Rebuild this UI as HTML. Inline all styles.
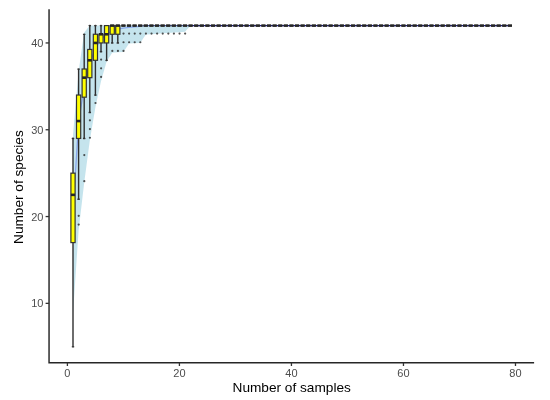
<!DOCTYPE html>
<html><head><meta charset="utf-8"><title>Species accumulation</title>
<style>
html,body{margin:0;padding:0;background:#fff;}
svg{display:block;}
.t{font-family:"Liberation Sans",Arial,sans-serif;font-size:11px;fill:#4d4d4d;}
.a{font-family:"Liberation Sans",Arial,sans-serif;font-size:13.65px;fill:#000;}
</style></head><body>
<svg width="550" height="400" viewBox="0 0 550 400">
<rect width="550" height="400" fill="#fff"/>
<polyline points="73.00,213.08 78.60,121.94 84.20,87.22 89.80,63.78 95.41,48.16 101.01,39.48 106.61,34.27 112.21,30.80 117.81,29.06 123.41,28.19 129.01,27.33 134.61,26.89 140.21,26.46" fill="none" stroke="#0000ff" stroke-opacity="0.8" stroke-width="1.3"/>
<polyline points="140.21,26.46 145.81,25.59 151.42,25.59 157.02,25.59 162.62,25.59 168.22,25.59 173.82,25.59 179.42,25.59 185.02,25.59 190.62,25.59 196.22,25.59 201.82,25.59 207.43,25.59 213.03,25.59 218.63,25.59 224.23,25.59 229.83,25.59 235.43,25.59 241.03,25.59 246.63,25.59 252.23,25.59 257.83,25.59 263.44,25.59 269.04,25.59 274.64,25.59 280.24,25.59 285.84,25.59 291.44,25.59 297.04,25.59 302.64,25.59 308.24,25.59 313.84,25.59 319.44,25.59 325.05,25.59 330.65,25.59 336.25,25.59 341.85,25.59 347.45,25.59 353.05,25.59 358.65,25.59 364.25,25.59 369.85,25.59 375.46,25.59 381.06,25.59 386.66,25.59 392.26,25.59 397.86,25.59 403.46,25.59 409.06,25.59 414.66,25.59 420.26,25.59 425.86,25.59 431.47,25.59 437.07,25.59 442.67,25.59 448.27,25.59 453.87,25.59 459.47,25.59 465.07,25.59 470.67,25.59 476.27,25.59 481.87,25.59 487.48,25.59 493.08,25.59 498.68,25.59 504.28,25.59 509.88,25.59" fill="none" stroke="#1c1c8a" stroke-width="1.3"/>
<polygon points="73.00,134.96 78.60,71.59 84.20,32.53 89.80,25.59 95.41,25.59 101.01,25.59 106.61,25.59 112.21,25.59 117.81,25.59 123.41,25.59 129.01,25.59 134.61,25.59 140.21,25.59 145.81,25.59 151.42,25.59 157.02,25.59 162.62,25.59 168.22,25.59 173.82,25.59 179.42,25.59 185.02,25.59 190.62,25.59 196.22,25.59 201.82,25.59 207.43,25.59 213.03,25.59 218.63,25.59 224.23,25.59 229.83,25.59 235.43,25.59 241.03,25.59 246.63,25.59 252.23,25.59 257.83,25.59 263.44,25.59 269.04,25.59 274.64,25.59 280.24,25.59 285.84,25.59 291.44,25.59 297.04,25.59 302.64,25.59 308.24,25.59 313.84,25.59 319.44,25.59 325.05,25.59 330.65,25.59 336.25,25.59 341.85,25.59 347.45,25.59 353.05,25.59 358.65,25.59 364.25,25.59 369.85,25.59 375.46,25.59 381.06,25.59 386.66,25.59 392.26,25.59 397.86,25.59 403.46,25.59 409.06,25.59 414.66,25.59 420.26,25.59 425.86,25.59 431.47,25.59 437.07,25.59 442.67,25.59 448.27,25.59 453.87,25.59 459.47,25.59 465.07,25.59 470.67,25.59 476.27,25.59 481.87,25.59 487.48,25.59 493.08,25.59 498.68,25.59 504.28,25.59 509.88,25.59 515.48,25.59 515.48,25.59 509.88,25.59 504.28,25.59 498.68,25.59 493.08,25.59 487.48,25.59 481.87,25.59 476.27,25.59 470.67,25.59 465.07,25.59 459.47,25.59 453.87,25.59 448.27,25.59 442.67,25.59 437.07,25.59 431.47,25.59 425.86,25.59 420.26,25.59 414.66,25.59 409.06,25.59 403.46,25.59 397.86,25.59 392.26,25.59 386.66,25.59 381.06,25.59 375.46,25.59 369.85,25.59 364.25,25.59 358.65,25.59 353.05,25.59 347.45,25.59 341.85,25.59 336.25,25.59 330.65,25.59 325.05,25.59 319.44,25.59 313.84,25.59 308.24,25.59 302.64,25.59 297.04,25.59 291.44,25.59 285.84,25.59 280.24,25.59 274.64,25.59 269.04,25.59 263.44,25.59 257.83,25.59 252.23,25.59 246.63,25.59 241.03,25.59 235.43,25.59 229.83,25.59 224.23,25.59 218.63,25.59 213.03,25.59 207.43,25.59 201.82,25.59 196.22,25.59 190.62,25.59 185.02,31.80 179.42,32.19 173.82,32.58 168.22,32.97 162.62,33.36 157.02,33.75 151.42,34.14 145.81,34.53 140.21,42.95 134.61,43.30 129.01,43.56 123.41,52.06 117.81,52.32 112.21,52.67 106.61,61.61 101.01,81.14 95.41,107.18 89.80,140.60 84.20,182.70 78.60,230.44 73.00,313.77" fill="#add8e6" fill-opacity="0.7"/>
<line x1="73.00" y1="138.43" x2="73.00" y2="173.15" stroke="#2e2e2e" stroke-width="1.4"/>
<ellipse cx="73.00" cy="138.43" rx="1.35" ry="0.85" fill="#333"/>
<line x1="73.00" y1="346.75" x2="73.00" y2="242.59" stroke="#2e2e2e" stroke-width="1.4"/>
<ellipse cx="73.00" cy="346.75" rx="1.35" ry="0.85" fill="#333"/>
<rect x="70.90" y="173.15" width="4.20" height="69.44" fill="#ffff00" stroke="#333" stroke-width="1.2"/>
<line x1="70.90" y1="194.85" x2="75.10" y2="194.85" stroke="#262626" stroke-width="2.6"/>
<circle cx="78.70" cy="215.85" r="1.1" fill="#333" fill-opacity="0.85"/>
<circle cx="78.70" cy="224.53" r="1.1" fill="#333" fill-opacity="0.85"/>
<line x1="78.60" y1="68.99" x2="78.60" y2="95.03" stroke="#2e2e2e" stroke-width="1.4"/>
<ellipse cx="78.60" cy="68.99" rx="1.35" ry="0.85" fill="#333"/>
<line x1="78.60" y1="199.19" x2="78.60" y2="138.43" stroke="#2e2e2e" stroke-width="1.4"/>
<ellipse cx="78.60" cy="199.19" rx="1.35" ry="0.85" fill="#333"/>
<rect x="76.50" y="95.03" width="4.20" height="43.40" fill="#ffff00" stroke="#333" stroke-width="1.2"/>
<line x1="76.50" y1="121.07" x2="80.70" y2="121.07" stroke="#262626" stroke-width="2.6"/>
<circle cx="84.30" cy="155.09" r="1.1" fill="#333" fill-opacity="0.85"/>
<circle cx="84.30" cy="181.13" r="1.1" fill="#333" fill-opacity="0.85"/>
<line x1="84.20" y1="34.27" x2="84.20" y2="68.99" stroke="#2e2e2e" stroke-width="1.4"/>
<ellipse cx="84.20" cy="34.27" rx="1.35" ry="0.85" fill="#333"/>
<line x1="84.20" y1="138.43" x2="84.20" y2="97.20" stroke="#2e2e2e" stroke-width="1.4"/>
<ellipse cx="84.20" cy="138.43" rx="1.35" ry="0.85" fill="#333"/>
<rect x="82.10" y="68.99" width="4.20" height="28.21" fill="#ffff00" stroke="#333" stroke-width="1.2"/>
<line x1="82.10" y1="77.67" x2="86.30" y2="77.67" stroke="#262626" stroke-width="2.6"/>
<circle cx="89.90" cy="120.37" r="1.1" fill="#333" fill-opacity="0.85"/>
<circle cx="89.90" cy="129.05" r="1.1" fill="#333" fill-opacity="0.85"/>
<circle cx="89.90" cy="137.73" r="1.1" fill="#333" fill-opacity="0.85"/>
<line x1="89.80" y1="25.59" x2="89.80" y2="49.46" stroke="#2e2e2e" stroke-width="1.4"/>
<ellipse cx="89.80" cy="25.59" rx="1.35" ry="0.85" fill="#333"/>
<line x1="89.80" y1="112.39" x2="89.80" y2="77.67" stroke="#2e2e2e" stroke-width="1.4"/>
<ellipse cx="89.80" cy="112.39" rx="1.35" ry="0.85" fill="#333"/>
<rect x="87.70" y="49.46" width="4.20" height="28.21" fill="#ffff00" stroke="#333" stroke-width="1.2"/>
<line x1="87.70" y1="60.31" x2="91.90" y2="60.31" stroke="#262626" stroke-width="2.6"/>
<circle cx="95.50" cy="103.01" r="1.1" fill="#333" fill-opacity="0.85"/>
<line x1="95.41" y1="25.59" x2="95.41" y2="34.27" stroke="#2e2e2e" stroke-width="1.4"/>
<ellipse cx="95.41" cy="25.59" rx="1.35" ry="0.85" fill="#333"/>
<line x1="95.41" y1="95.03" x2="95.41" y2="60.31" stroke="#2e2e2e" stroke-width="1.4"/>
<ellipse cx="95.41" cy="95.03" rx="1.35" ry="0.85" fill="#333"/>
<rect x="93.31" y="34.27" width="4.20" height="26.04" fill="#ffff00" stroke="#333" stroke-width="1.2"/>
<line x1="93.31" y1="42.95" x2="97.50" y2="42.95" stroke="#262626" stroke-width="2.6"/>
<circle cx="101.11" cy="59.61" r="1.1" fill="#333" fill-opacity="0.85"/>
<circle cx="101.11" cy="68.29" r="1.1" fill="#333" fill-opacity="0.85"/>
<circle cx="101.11" cy="76.97" r="1.1" fill="#333" fill-opacity="0.85"/>
<line x1="101.01" y1="25.59" x2="101.01" y2="34.27" stroke="#2e2e2e" stroke-width="1.4"/>
<ellipse cx="101.01" cy="25.59" rx="1.35" ry="0.85" fill="#333"/>
<line x1="101.01" y1="51.63" x2="101.01" y2="42.95" stroke="#2e2e2e" stroke-width="1.4"/>
<ellipse cx="101.01" cy="51.63" rx="1.35" ry="0.85" fill="#333"/>
<rect x="98.91" y="34.27" width="4.20" height="8.68" fill="#ffff00" stroke="#333" stroke-width="1.2"/>
<line x1="98.91" y1="34.27" x2="103.11" y2="34.27" stroke="#262626" stroke-width="2.6"/>
<line x1="106.61" y1="60.31" x2="106.61" y2="42.95" stroke="#2e2e2e" stroke-width="1.4"/>
<ellipse cx="106.61" cy="60.31" rx="1.35" ry="0.85" fill="#333"/>
<rect x="104.51" y="25.59" width="4.20" height="17.36" fill="#ffff00" stroke="#333" stroke-width="1.2"/>
<line x1="104.51" y1="34.27" x2="108.71" y2="34.27" stroke="#262626" stroke-width="2.6"/>
<circle cx="112.31" cy="50.93" r="1.1" fill="#333" fill-opacity="0.85"/>
<line x1="112.21" y1="42.95" x2="112.21" y2="34.27" stroke="#2e2e2e" stroke-width="1.4"/>
<ellipse cx="112.21" cy="42.95" rx="1.35" ry="0.85" fill="#333"/>
<rect x="110.11" y="25.59" width="4.20" height="8.68" fill="#ffff00" stroke="#333" stroke-width="1.2"/>
<line x1="110.11" y1="25.59" x2="114.31" y2="25.59" stroke="#262626" stroke-width="2.6"/>
<circle cx="117.91" cy="50.93" r="1.1" fill="#333" fill-opacity="0.85"/>
<line x1="117.81" y1="42.95" x2="117.81" y2="34.27" stroke="#2e2e2e" stroke-width="1.4"/>
<ellipse cx="117.81" cy="42.95" rx="1.35" ry="0.85" fill="#333"/>
<rect x="115.71" y="25.59" width="4.20" height="8.68" fill="#ffff00" stroke="#333" stroke-width="1.2"/>
<line x1="115.71" y1="25.59" x2="119.91" y2="25.59" stroke="#262626" stroke-width="2.6"/>
<circle cx="123.51" cy="33.57" r="1.1" fill="#333" fill-opacity="0.85"/>
<circle cx="123.51" cy="42.25" r="1.1" fill="#333" fill-opacity="0.85"/>
<circle cx="123.51" cy="50.93" r="1.1" fill="#333" fill-opacity="0.85"/>
<line x1="121.31" y1="25.59" x2="125.51" y2="25.59" stroke="#333" stroke-width="1.2"/>
<line x1="121.31" y1="25.59" x2="125.51" y2="25.59" stroke="#262626" stroke-width="2.6"/>
<circle cx="129.11" cy="33.57" r="1.1" fill="#333" fill-opacity="0.85"/>
<circle cx="129.11" cy="42.25" r="1.1" fill="#333" fill-opacity="0.85"/>
<line x1="126.91" y1="25.59" x2="131.11" y2="25.59" stroke="#333" stroke-width="1.2"/>
<line x1="126.91" y1="25.59" x2="131.11" y2="25.59" stroke="#262626" stroke-width="2.6"/>
<circle cx="134.71" cy="33.57" r="1.1" fill="#333" fill-opacity="0.85"/>
<circle cx="134.71" cy="42.25" r="1.1" fill="#333" fill-opacity="0.85"/>
<line x1="132.51" y1="25.59" x2="136.71" y2="25.59" stroke="#333" stroke-width="1.2"/>
<line x1="132.51" y1="25.59" x2="136.71" y2="25.59" stroke="#262626" stroke-width="2.6"/>
<circle cx="140.31" cy="33.57" r="1.1" fill="#333" fill-opacity="0.85"/>
<circle cx="140.31" cy="42.25" r="1.1" fill="#333" fill-opacity="0.85"/>
<line x1="138.11" y1="25.59" x2="142.31" y2="25.59" stroke="#333" stroke-width="1.2"/>
<line x1="138.11" y1="25.59" x2="142.31" y2="25.59" stroke="#262626" stroke-width="2.6"/>
<circle cx="145.91" cy="33.57" r="1.1" fill="#333" fill-opacity="0.85"/>
<line x1="143.71" y1="25.59" x2="147.91" y2="25.59" stroke="#333" stroke-width="1.2"/>
<line x1="143.71" y1="25.59" x2="147.91" y2="25.59" stroke="#262626" stroke-width="2.6"/>
<circle cx="151.52" cy="33.57" r="1.1" fill="#333" fill-opacity="0.85"/>
<line x1="149.32" y1="25.59" x2="153.52" y2="25.59" stroke="#333" stroke-width="1.2"/>
<line x1="149.32" y1="25.59" x2="153.52" y2="25.59" stroke="#262626" stroke-width="2.6"/>
<circle cx="157.12" cy="33.57" r="1.1" fill="#333" fill-opacity="0.85"/>
<line x1="154.92" y1="25.59" x2="159.12" y2="25.59" stroke="#333" stroke-width="1.2"/>
<line x1="154.92" y1="25.59" x2="159.12" y2="25.59" stroke="#262626" stroke-width="2.6"/>
<circle cx="162.72" cy="33.57" r="1.1" fill="#333" fill-opacity="0.85"/>
<line x1="160.52" y1="25.59" x2="164.72" y2="25.59" stroke="#333" stroke-width="1.2"/>
<line x1="160.52" y1="25.59" x2="164.72" y2="25.59" stroke="#262626" stroke-width="2.6"/>
<circle cx="168.32" cy="33.57" r="1.1" fill="#333" fill-opacity="0.85"/>
<line x1="166.12" y1="25.59" x2="170.32" y2="25.59" stroke="#333" stroke-width="1.2"/>
<line x1="166.12" y1="25.59" x2="170.32" y2="25.59" stroke="#262626" stroke-width="2.6"/>
<circle cx="173.92" cy="33.57" r="1.1" fill="#333" fill-opacity="0.85"/>
<line x1="171.72" y1="25.59" x2="175.92" y2="25.59" stroke="#333" stroke-width="1.2"/>
<line x1="171.72" y1="25.59" x2="175.92" y2="25.59" stroke="#262626" stroke-width="2.6"/>
<circle cx="179.52" cy="33.57" r="1.1" fill="#333" fill-opacity="0.85"/>
<line x1="177.32" y1="25.59" x2="181.52" y2="25.59" stroke="#333" stroke-width="1.2"/>
<line x1="177.32" y1="25.59" x2="181.52" y2="25.59" stroke="#262626" stroke-width="2.6"/>
<circle cx="185.12" cy="33.57" r="1.1" fill="#333" fill-opacity="0.85"/>
<line x1="182.92" y1="25.59" x2="187.12" y2="25.59" stroke="#333" stroke-width="1.2"/>
<line x1="182.92" y1="25.59" x2="187.12" y2="25.59" stroke="#262626" stroke-width="2.6"/>
<line x1="188.52" y1="25.59" x2="192.72" y2="25.59" stroke="#333" stroke-width="1.2"/>
<line x1="188.52" y1="25.59" x2="192.72" y2="25.59" stroke="#262626" stroke-width="2.6"/>
<line x1="194.12" y1="25.59" x2="198.32" y2="25.59" stroke="#333" stroke-width="1.2"/>
<line x1="194.12" y1="25.59" x2="198.32" y2="25.59" stroke="#262626" stroke-width="2.6"/>
<line x1="199.72" y1="25.59" x2="203.92" y2="25.59" stroke="#333" stroke-width="1.2"/>
<line x1="199.72" y1="25.59" x2="203.92" y2="25.59" stroke="#262626" stroke-width="2.6"/>
<line x1="205.33" y1="25.59" x2="209.53" y2="25.59" stroke="#333" stroke-width="1.2"/>
<line x1="205.33" y1="25.59" x2="209.53" y2="25.59" stroke="#262626" stroke-width="2.6"/>
<line x1="210.93" y1="25.59" x2="215.13" y2="25.59" stroke="#333" stroke-width="1.2"/>
<line x1="210.93" y1="25.59" x2="215.13" y2="25.59" stroke="#262626" stroke-width="2.6"/>
<line x1="216.53" y1="25.59" x2="220.73" y2="25.59" stroke="#333" stroke-width="1.2"/>
<line x1="216.53" y1="25.59" x2="220.73" y2="25.59" stroke="#262626" stroke-width="2.6"/>
<line x1="222.13" y1="25.59" x2="226.33" y2="25.59" stroke="#333" stroke-width="1.2"/>
<line x1="222.13" y1="25.59" x2="226.33" y2="25.59" stroke="#262626" stroke-width="2.6"/>
<line x1="227.73" y1="25.59" x2="231.93" y2="25.59" stroke="#333" stroke-width="1.2"/>
<line x1="227.73" y1="25.59" x2="231.93" y2="25.59" stroke="#262626" stroke-width="2.6"/>
<line x1="233.33" y1="25.59" x2="237.53" y2="25.59" stroke="#333" stroke-width="1.2"/>
<line x1="233.33" y1="25.59" x2="237.53" y2="25.59" stroke="#262626" stroke-width="2.6"/>
<line x1="238.93" y1="25.59" x2="243.13" y2="25.59" stroke="#333" stroke-width="1.2"/>
<line x1="238.93" y1="25.59" x2="243.13" y2="25.59" stroke="#262626" stroke-width="2.6"/>
<line x1="244.53" y1="25.59" x2="248.73" y2="25.59" stroke="#333" stroke-width="1.2"/>
<line x1="244.53" y1="25.59" x2="248.73" y2="25.59" stroke="#262626" stroke-width="2.6"/>
<line x1="250.13" y1="25.59" x2="254.33" y2="25.59" stroke="#333" stroke-width="1.2"/>
<line x1="250.13" y1="25.59" x2="254.33" y2="25.59" stroke="#262626" stroke-width="2.6"/>
<line x1="255.73" y1="25.59" x2="259.93" y2="25.59" stroke="#333" stroke-width="1.2"/>
<line x1="255.73" y1="25.59" x2="259.93" y2="25.59" stroke="#262626" stroke-width="2.6"/>
<line x1="261.33" y1="25.59" x2="265.54" y2="25.59" stroke="#333" stroke-width="1.2"/>
<line x1="261.33" y1="25.59" x2="265.54" y2="25.59" stroke="#262626" stroke-width="2.6"/>
<line x1="266.94" y1="25.59" x2="271.14" y2="25.59" stroke="#333" stroke-width="1.2"/>
<line x1="266.94" y1="25.59" x2="271.14" y2="25.59" stroke="#262626" stroke-width="2.6"/>
<line x1="272.54" y1="25.59" x2="276.74" y2="25.59" stroke="#333" stroke-width="1.2"/>
<line x1="272.54" y1="25.59" x2="276.74" y2="25.59" stroke="#262626" stroke-width="2.6"/>
<line x1="278.14" y1="25.59" x2="282.34" y2="25.59" stroke="#333" stroke-width="1.2"/>
<line x1="278.14" y1="25.59" x2="282.34" y2="25.59" stroke="#262626" stroke-width="2.6"/>
<line x1="283.74" y1="25.59" x2="287.94" y2="25.59" stroke="#333" stroke-width="1.2"/>
<line x1="283.74" y1="25.59" x2="287.94" y2="25.59" stroke="#262626" stroke-width="2.6"/>
<line x1="289.34" y1="25.59" x2="293.54" y2="25.59" stroke="#333" stroke-width="1.2"/>
<line x1="289.34" y1="25.59" x2="293.54" y2="25.59" stroke="#262626" stroke-width="2.6"/>
<line x1="294.94" y1="25.59" x2="299.14" y2="25.59" stroke="#333" stroke-width="1.2"/>
<line x1="294.94" y1="25.59" x2="299.14" y2="25.59" stroke="#262626" stroke-width="2.6"/>
<line x1="300.54" y1="25.59" x2="304.74" y2="25.59" stroke="#333" stroke-width="1.2"/>
<line x1="300.54" y1="25.59" x2="304.74" y2="25.59" stroke="#262626" stroke-width="2.6"/>
<line x1="306.14" y1="25.59" x2="310.34" y2="25.59" stroke="#333" stroke-width="1.2"/>
<line x1="306.14" y1="25.59" x2="310.34" y2="25.59" stroke="#262626" stroke-width="2.6"/>
<line x1="311.74" y1="25.59" x2="315.94" y2="25.59" stroke="#333" stroke-width="1.2"/>
<line x1="311.74" y1="25.59" x2="315.94" y2="25.59" stroke="#262626" stroke-width="2.6"/>
<line x1="317.34" y1="25.59" x2="321.55" y2="25.59" stroke="#333" stroke-width="1.2"/>
<line x1="317.34" y1="25.59" x2="321.55" y2="25.59" stroke="#262626" stroke-width="2.6"/>
<line x1="322.95" y1="25.59" x2="327.15" y2="25.59" stroke="#333" stroke-width="1.2"/>
<line x1="322.95" y1="25.59" x2="327.15" y2="25.59" stroke="#262626" stroke-width="2.6"/>
<line x1="328.55" y1="25.59" x2="332.75" y2="25.59" stroke="#333" stroke-width="1.2"/>
<line x1="328.55" y1="25.59" x2="332.75" y2="25.59" stroke="#262626" stroke-width="2.6"/>
<line x1="334.15" y1="25.59" x2="338.35" y2="25.59" stroke="#333" stroke-width="1.2"/>
<line x1="334.15" y1="25.59" x2="338.35" y2="25.59" stroke="#262626" stroke-width="2.6"/>
<line x1="339.75" y1="25.59" x2="343.95" y2="25.59" stroke="#333" stroke-width="1.2"/>
<line x1="339.75" y1="25.59" x2="343.95" y2="25.59" stroke="#262626" stroke-width="2.6"/>
<line x1="345.35" y1="25.59" x2="349.55" y2="25.59" stroke="#333" stroke-width="1.2"/>
<line x1="345.35" y1="25.59" x2="349.55" y2="25.59" stroke="#262626" stroke-width="2.6"/>
<line x1="350.95" y1="25.59" x2="355.15" y2="25.59" stroke="#333" stroke-width="1.2"/>
<line x1="350.95" y1="25.59" x2="355.15" y2="25.59" stroke="#262626" stroke-width="2.6"/>
<line x1="356.55" y1="25.59" x2="360.75" y2="25.59" stroke="#333" stroke-width="1.2"/>
<line x1="356.55" y1="25.59" x2="360.75" y2="25.59" stroke="#262626" stroke-width="2.6"/>
<line x1="362.15" y1="25.59" x2="366.35" y2="25.59" stroke="#333" stroke-width="1.2"/>
<line x1="362.15" y1="25.59" x2="366.35" y2="25.59" stroke="#262626" stroke-width="2.6"/>
<line x1="367.75" y1="25.59" x2="371.95" y2="25.59" stroke="#333" stroke-width="1.2"/>
<line x1="367.75" y1="25.59" x2="371.95" y2="25.59" stroke="#262626" stroke-width="2.6"/>
<line x1="373.36" y1="25.59" x2="377.56" y2="25.59" stroke="#333" stroke-width="1.2"/>
<line x1="373.36" y1="25.59" x2="377.56" y2="25.59" stroke="#262626" stroke-width="2.6"/>
<line x1="378.96" y1="25.59" x2="383.16" y2="25.59" stroke="#333" stroke-width="1.2"/>
<line x1="378.96" y1="25.59" x2="383.16" y2="25.59" stroke="#262626" stroke-width="2.6"/>
<line x1="384.56" y1="25.59" x2="388.76" y2="25.59" stroke="#333" stroke-width="1.2"/>
<line x1="384.56" y1="25.59" x2="388.76" y2="25.59" stroke="#262626" stroke-width="2.6"/>
<line x1="390.16" y1="25.59" x2="394.36" y2="25.59" stroke="#333" stroke-width="1.2"/>
<line x1="390.16" y1="25.59" x2="394.36" y2="25.59" stroke="#262626" stroke-width="2.6"/>
<line x1="395.76" y1="25.59" x2="399.96" y2="25.59" stroke="#333" stroke-width="1.2"/>
<line x1="395.76" y1="25.59" x2="399.96" y2="25.59" stroke="#262626" stroke-width="2.6"/>
<line x1="401.36" y1="25.59" x2="405.56" y2="25.59" stroke="#333" stroke-width="1.2"/>
<line x1="401.36" y1="25.59" x2="405.56" y2="25.59" stroke="#262626" stroke-width="2.6"/>
<line x1="406.96" y1="25.59" x2="411.16" y2="25.59" stroke="#333" stroke-width="1.2"/>
<line x1="406.96" y1="25.59" x2="411.16" y2="25.59" stroke="#262626" stroke-width="2.6"/>
<line x1="412.56" y1="25.59" x2="416.76" y2="25.59" stroke="#333" stroke-width="1.2"/>
<line x1="412.56" y1="25.59" x2="416.76" y2="25.59" stroke="#262626" stroke-width="2.6"/>
<line x1="418.16" y1="25.59" x2="422.36" y2="25.59" stroke="#333" stroke-width="1.2"/>
<line x1="418.16" y1="25.59" x2="422.36" y2="25.59" stroke="#262626" stroke-width="2.6"/>
<line x1="423.76" y1="25.59" x2="427.96" y2="25.59" stroke="#333" stroke-width="1.2"/>
<line x1="423.76" y1="25.59" x2="427.96" y2="25.59" stroke="#262626" stroke-width="2.6"/>
<line x1="429.37" y1="25.59" x2="433.57" y2="25.59" stroke="#333" stroke-width="1.2"/>
<line x1="429.37" y1="25.59" x2="433.57" y2="25.59" stroke="#262626" stroke-width="2.6"/>
<line x1="434.97" y1="25.59" x2="439.17" y2="25.59" stroke="#333" stroke-width="1.2"/>
<line x1="434.97" y1="25.59" x2="439.17" y2="25.59" stroke="#262626" stroke-width="2.6"/>
<line x1="440.57" y1="25.59" x2="444.77" y2="25.59" stroke="#333" stroke-width="1.2"/>
<line x1="440.57" y1="25.59" x2="444.77" y2="25.59" stroke="#262626" stroke-width="2.6"/>
<line x1="446.17" y1="25.59" x2="450.37" y2="25.59" stroke="#333" stroke-width="1.2"/>
<line x1="446.17" y1="25.59" x2="450.37" y2="25.59" stroke="#262626" stroke-width="2.6"/>
<line x1="451.77" y1="25.59" x2="455.97" y2="25.59" stroke="#333" stroke-width="1.2"/>
<line x1="451.77" y1="25.59" x2="455.97" y2="25.59" stroke="#262626" stroke-width="2.6"/>
<line x1="457.37" y1="25.59" x2="461.57" y2="25.59" stroke="#333" stroke-width="1.2"/>
<line x1="457.37" y1="25.59" x2="461.57" y2="25.59" stroke="#262626" stroke-width="2.6"/>
<line x1="462.97" y1="25.59" x2="467.17" y2="25.59" stroke="#333" stroke-width="1.2"/>
<line x1="462.97" y1="25.59" x2="467.17" y2="25.59" stroke="#262626" stroke-width="2.6"/>
<line x1="468.57" y1="25.59" x2="472.77" y2="25.59" stroke="#333" stroke-width="1.2"/>
<line x1="468.57" y1="25.59" x2="472.77" y2="25.59" stroke="#262626" stroke-width="2.6"/>
<line x1="474.17" y1="25.59" x2="478.37" y2="25.59" stroke="#333" stroke-width="1.2"/>
<line x1="474.17" y1="25.59" x2="478.37" y2="25.59" stroke="#262626" stroke-width="2.6"/>
<line x1="479.77" y1="25.59" x2="483.97" y2="25.59" stroke="#333" stroke-width="1.2"/>
<line x1="479.77" y1="25.59" x2="483.97" y2="25.59" stroke="#262626" stroke-width="2.6"/>
<line x1="485.38" y1="25.59" x2="489.58" y2="25.59" stroke="#333" stroke-width="1.2"/>
<line x1="485.38" y1="25.59" x2="489.58" y2="25.59" stroke="#262626" stroke-width="2.6"/>
<line x1="490.98" y1="25.59" x2="495.18" y2="25.59" stroke="#333" stroke-width="1.2"/>
<line x1="490.98" y1="25.59" x2="495.18" y2="25.59" stroke="#262626" stroke-width="2.6"/>
<line x1="496.58" y1="25.59" x2="500.78" y2="25.59" stroke="#333" stroke-width="1.2"/>
<line x1="496.58" y1="25.59" x2="500.78" y2="25.59" stroke="#262626" stroke-width="2.6"/>
<line x1="502.18" y1="25.59" x2="506.38" y2="25.59" stroke="#333" stroke-width="1.2"/>
<line x1="502.18" y1="25.59" x2="506.38" y2="25.59" stroke="#262626" stroke-width="2.6"/>
<line x1="507.78" y1="25.59" x2="511.98" y2="25.59" stroke="#333" stroke-width="1.2"/>
<line x1="507.78" y1="25.59" x2="511.98" y2="25.59" stroke="#262626" stroke-width="2.6"/>
<polyline points="49.05,9.3 49.05,362.80 534.1,362.80" fill="none" stroke="#262626" stroke-width="1.45"/>
<line x1="45.6" x2="49.05" y1="303.35" y2="303.35" stroke="#333" stroke-width="1.3"/>
<text x="43.4" y="307.35" text-anchor="end" class="t">10</text>
<line x1="45.6" x2="49.05" y1="216.55" y2="216.55" stroke="#333" stroke-width="1.3"/>
<text x="43.4" y="220.55" text-anchor="end" class="t">20</text>
<line x1="45.6" x2="49.05" y1="129.75" y2="129.75" stroke="#333" stroke-width="1.3"/>
<text x="43.4" y="133.75" text-anchor="end" class="t">30</text>
<line x1="45.6" x2="49.05" y1="42.95" y2="42.95" stroke="#333" stroke-width="1.3"/>
<text x="43.4" y="46.95" text-anchor="end" class="t">40</text>
<line y1="362.80" y2="366.0" x1="67.40" x2="67.40" stroke="#333" stroke-width="1.3"/>
<text x="67.40" y="376.9" text-anchor="middle" class="t">0</text>
<line y1="362.80" y2="366.0" x1="179.42" x2="179.42" stroke="#333" stroke-width="1.3"/>
<text x="179.42" y="376.9" text-anchor="middle" class="t">20</text>
<line y1="362.80" y2="366.0" x1="291.44" x2="291.44" stroke="#333" stroke-width="1.3"/>
<text x="291.44" y="376.9" text-anchor="middle" class="t">40</text>
<line y1="362.80" y2="366.0" x1="403.46" x2="403.46" stroke="#333" stroke-width="1.3"/>
<text x="403.46" y="376.9" text-anchor="middle" class="t">60</text>
<line y1="362.80" y2="366.0" x1="515.48" x2="515.48" stroke="#333" stroke-width="1.3"/>
<text x="515.48" y="376.9" text-anchor="middle" class="t">80</text>
<text x="291.7" y="392.2" text-anchor="middle" class="a">Number of samples</text>
<text transform="translate(23.4,187.1) rotate(-90)" text-anchor="middle" class="a">Number of species</text>
</svg>
</body></html>
